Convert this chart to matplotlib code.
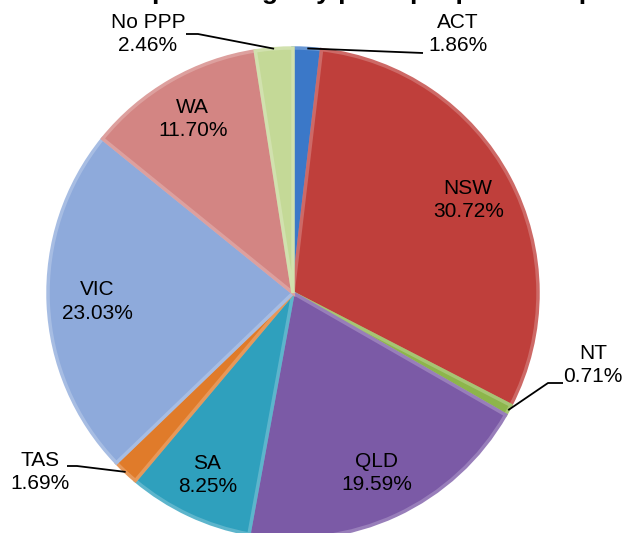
import numpy as np
import matplotlib
matplotlib.use("Agg")
import matplotlib.pyplot as plt
from matplotlib.colors import to_rgb

plt.rcParams['font.family'] = ['Liberation Sans', 'DejaVu Sans']

# ---- data ----
categories = ["ACT", "NSW", "NT", "QLD", "SA", "TAS", "VIC", "WA", "No PPP"]
values = [1.86, 30.72, 0.71, 19.59, 8.25, 1.69, 23.03, 11.70, 2.46]
title_text = "percentage by principal place of operation"

# ---- style ----
colors = ["#3b78c8", "#bf3f3b", "#8db54b", "#7b5aa6", "#2fa0bd",
          "#e07b2a", "#8eaadb", "#d38583", "#c4d997"]

W, H = 626, 533
fig = plt.figure(figsize=(W / 100, H / 100), dpi=100)
ax = fig.add_axes([0, 0, 1, 1])
ax.set_xlim(0, W)
ax.set_ylim(0, H)
ax.set_aspect('equal')
ax.axis('off')

def P(x, y):
    return (x, H - y)

cx, cy = 293, 293
R = 245

def lighten(c, f):
    r, g, b = to_rgb(c)
    return (r + (1 - r) * f, g + (1 - g) * f, b + (1 - b) * f)

wedges, _ = ax.pie(values, colors=colors, startangle=90, counterclock=False,
                   center=P(cx, cy), radius=R, frame=True,
                   wedgeprops=dict(edgecolor='none', linewidth=0))
# bevel-like edges
for w, c in zip(wedges, colors):
    w.set_edgecolor(lighten(c, 0.22))
    w.set_linewidth(2.5)
    w.set_joinstyle('miter')

fs = 15
ls = 1.3
inside = {"NSW": 0.81, "QLD": 0.81, "SA": 0.82, "VIC": 0.80, "WA": 0.82}
for w, name, v in zip(wedges, categories, values):
    if name in inside:
        ang = np.deg2rad((w.theta1 + w.theta2) / 2)
        d = inside[name] * R
        x = w.center[0] + d * np.cos(ang)
        y = w.center[1] + d * np.sin(ang)
        ax.text(x, y, f"{name}\n{v:.2f}%", ha='center', va='center',
                fontsize=fs, color='black', linespacing=ls)

# outside labels with leader lines (elbow then text)
outside = {
    "ACT": [P(423, 53)],
    "No PPP": [P(198, 34), P(186, 34)],
    "NT": [P(548, 383), P(563, 383)],
    "TAS": [P(77, 466), P(67, 466)],
}
text_pos = {"ACT": P(458, 34), "No PPP": P(148, 34), "NT": P(593, 365), "TAS": P(40, 472)}
for w, name, v in zip(wedges, categories, values):
    if name in outside:
        ang = np.deg2rad((w.theta1 + w.theta2) / 2)
        x0 = w.center[0] + R * np.cos(ang)
        y0 = w.center[1] + R * np.sin(ang)
        pts = [(x0, y0)] + outside[name]
        ax.plot([p[0] for p in pts], [p[1] for p in pts], color='black', lw=1.3,
                solid_capstyle='butt')
        tx, ty = text_pos[name]
        ax.text(tx, ty, f"{name}\n{v:.2f}%", ha='center', va='center',
                fontsize=fs, color='black', linespacing=ls)

# title (cropped at top of the image)
fig.text(152 / W, 1.0 + 1.5 / H, title_text, ha='left', va='baseline', fontsize=19,
         fontweight='bold', color='black')

fig.savefig("out.png", dpi=100)
